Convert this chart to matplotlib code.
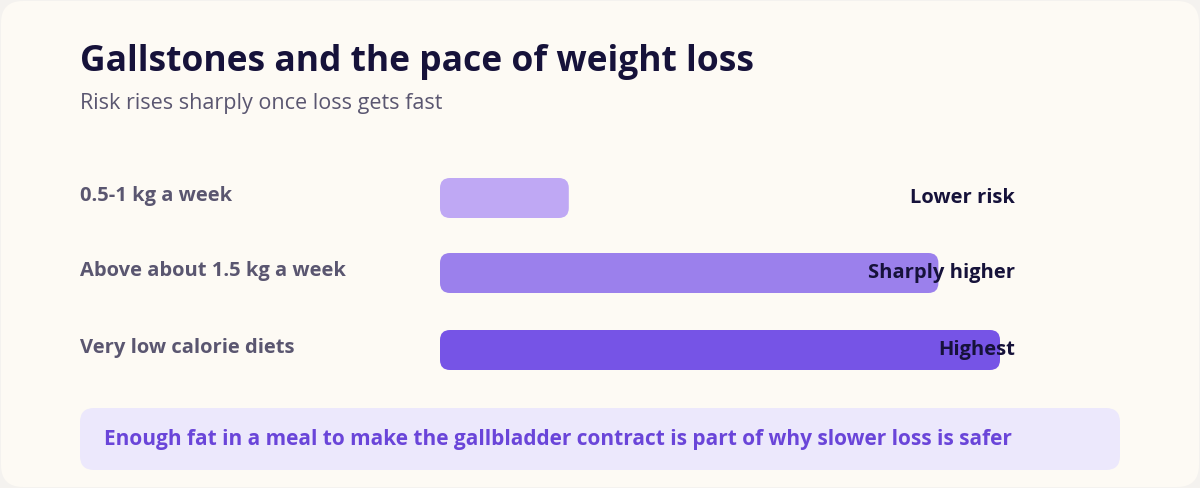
import matplotlib.pyplot as plt
from matplotlib.patches import FancyBboxPatch

categories = ["0.5-1 kg a week", "Above about 1.5 kg a week", "Very low calorie diets"]
risk_values = [23, 89, 100]
risk_labels = ["Lower risk", "Sharply higher", "Highest"]
bar_colors = ["#BFA8F4", "#9B80EC", "#7654E6"]

title = "Gallstones and the pace of weight loss"
subtitle = "Risk rises sharply once loss gets fast"
note = "Enough fat in a meal to make the gallbladder contract is part of why slower loss is safer"

plt.rcParams['font.family'] = ['Open Sans', 'DejaVu Sans']

fig = plt.figure(figsize=(12, 4.88), dpi=100)
fig.patch.set_facecolor("#F4F2EF")
ax = fig.add_axes([0, 0, 1, 1])
ax.set_xlim(0, 1200)
ax.set_ylim(488, 0)
ax.axis("off")

# card
ax.add_patch(FancyBboxPatch((1, 1), 1198, 486, boxstyle="round,pad=0,rounding_size=22",
                            fc="#FDFAF4", ec="none"))

ax.text(80, 62, title, fontsize=25.5, fontweight="bold", color="#16123A", va="center")
ax.text(80, 103, subtitle, fontsize=15.5, color="#5A5670", va="center")

x0, full = 440, 560
rows_y = [198, 273, 350]
for cat, v, lab, c, y in zip(categories, risk_values, risk_labels, bar_colors, rows_y):
    w = full * v / 100
    ax.add_patch(FancyBboxPatch((x0, y - 20), w, 40, boxstyle="round,pad=0,rounding_size=10",
                                fc=c, ec="none"))
    ax.text(80, y - 2, cat, fontsize=14.5, fontweight="bold", color="#5A5670", va="center")
    ax.text(1015, y, lab, fontsize=14.5, fontweight="bold", color="#16123A", va="center", ha="right")

ax.add_patch(FancyBboxPatch((80, 408), 1040, 62, boxstyle="round,pad=0,rounding_size=14",
                            fc="#ECE8FC", ec="none"))
ax.text(104, 440, note, fontsize=15, fontweight="bold", color="#6A45D9", va="center")

fig.savefig("out.png", dpi=100, facecolor=fig.get_facecolor())
